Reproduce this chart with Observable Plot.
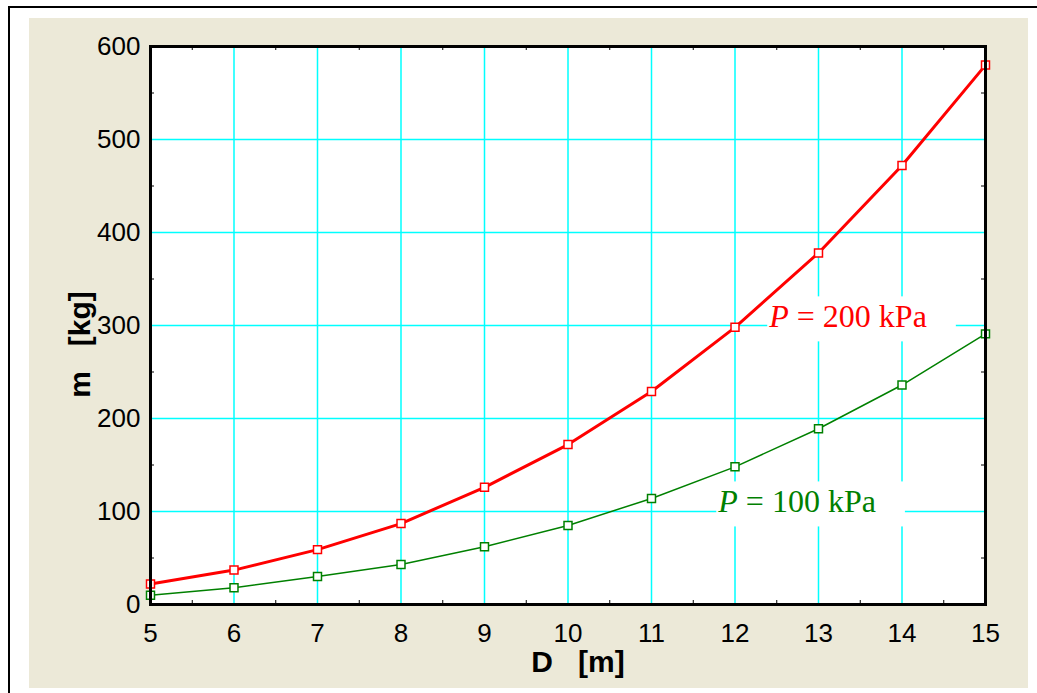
<!DOCTYPE html>
<html><head><meta charset="utf-8">
<script src="https://cdn.jsdelivr.net/npm/d3@7"></script>
<script src="https://cdn.jsdelivr.net/npm/@observablehq/plot@0.6"></script>
<style>
html,body{margin:0;padding:0;background:#fff;}
#wrap{position:relative;width:1037px;height:693px;overflow:hidden;}
#outer{position:absolute;left:8px;top:6px;width:1040px;height:700px;border-left:2px solid #000;border-top:2px solid #000;}
#beige{position:absolute;left:29px;top:18px;width:999px;height:670px;background:#ECE9D8;}
#chart{position:absolute;left:0;top:0;}
</style></head><body>
<div id="wrap"><div id="outer"></div><div id="beige"></div><div id="chart"></div></div>
<script>
// Data
const diameters = [5, 6, 7, 8, 9, 10, 11, 12, 13, 14, 15];
const mass200 = [22, 37, 59, 87, 126, 172, 229, 298, 378, 472, 580];
const mass100 = [10, 18, 30, 43, 62, 85, 114, 148, 189, 236, 291];
const xTicks = [5, 6, 7, 8, 9, 10, 11, 12, 13, 14, 15];
const yTicks = [0, 100, 200, 300, 400, 500, 600];
const xMinor = [5.5, 6.5, 7.5, 8.5, 9.5, 10.5, 11.5, 12.5, 13.5, 14.5];
const yMinor = [50, 150, 250, 350, 450, 550];
const seriesNames = ["P = 200 kPa", "P = 100 kPa"];
const seriesColors = ["#FF0000", "#008000"];
const labelX = [12.41, 11.80];
const labelY = [298, 99];
const xTitle = "D\u00A0\u00A0\u00A0[m]";
const yTitle = "m\u00A0\u00A0\u00A0[kg]";

const rows200 = diameters.map((d, i) => ({D: d, m: mass200[i]}));
const rows100 = diameters.map((d, i) => ({D: d, m: mass100[i]}));
const labels = seriesNames.map((t, i) => ({text: t, x: labelX[i], y: labelY[i], color: seriesColors[i]}));

const sans = "'Liberation Sans', Arial, sans-serif";
const serif = "'Liberation Serif', 'Times New Roman', serif";

const plot = Plot.plot({
  width: 1037, height: 693,
  marginLeft: 150, marginRight: 52, marginTop: 46, marginBottom: 89,
  style: {background: "transparent", fontFamily: sans, overflow: "visible"},
  x: {domain: [5, 15]},
  y: {domain: [0, 600]},
  color: {type: "identity"},
  marks: [
    Plot.frame({fill: "white", stroke: null}),
    Plot.gridX(xTicks, {stroke: "#00FFFF", strokeOpacity: 1, strokeWidth: 1.5}),
    Plot.gridY(yTicks, {stroke: "#00FFFF", strokeOpacity: 1, strokeWidth: 1.5}),
    Plot.axisX(xTicks, {tickSize: 0, tickPadding: 19, fontSize: 26, label: null, tickFormat: d => String(d)}),
    Plot.axisY(yTicks, {tickSize: 0, tickPadding: 10, fontSize: 26, label: null, tickFormat: d => String(d)}),
    Plot.tickY(yMinor, {y: d => d, insetRight: 831, stroke: "#000", strokeWidth: 1}),
    Plot.tickY(yMinor, {y: d => d, insetLeft: 831, stroke: "#000", strokeWidth: 1}),
    Plot.tickX(xMinor, {x: d => d, insetTop: 554, stroke: "#000", strokeWidth: 1}),
    Plot.tickX(xMinor, {x: d => d, insetBottom: 554, stroke: "#000", strokeWidth: 1}),
    Plot.line(rows100, {x: "D", y: "m", stroke: seriesColors[1], strokeWidth: 1.5}),
    Plot.line(rows200, {x: "D", y: "m", stroke: seriesColors[0], strokeWidth: 3}),
    Plot.dot(rows100, {x: "D", y: "m", symbol: "square", r: 4.5, fill: "white", stroke: seriesColors[1], strokeWidth: 1.5}),
    Plot.dot(rows200, {x: "D", y: "m", symbol: "square", r: 4.5, fill: "white", stroke: seriesColors[0], strokeWidth: 1.5}),
    Plot.text(labels, {x: "x", y: "y", text: "text", fill: "color", textAnchor: "start", lineAnchor: "bottom", fontSize: 32, fontFamily: serif}),
    Plot.text([yTitle], {frameAnchor: "left", dx: -70, dy: 19, rotate: -90, textAnchor: "middle", lineAnchor: "middle", fontSize: 30, fontWeight: "bold", fill: "#000"}),
    Plot.text([xTitle], {frameAnchor: "bottom", dx: 10, dy: 58, textAnchor: "middle", lineAnchor: "middle", fontSize: 30, fontWeight: "bold", fill: "#000"}),
    Plot.frame({stroke: "#000", strokeWidth: 3})
  ]
});
document.getElementById("chart").appendChild(plot);

// Italic "P" and white label boxes behind the series labels
const svg = d3.select(plot);
const firstLine = plot.querySelector('g[aria-label="line"]');
svg.selectAll("text").each(function () {
  const t = this.textContent;
  if (!seriesNames.includes(t)) return;
  const el = d3.select(this);
  el.text("");
  el.append("tspan").attr("font-style", "italic").text(t.slice(0, 1));
  el.append("tspan").text(t.slice(1));
  const bb = this.getBBox();
  const parent = this.parentNode;
  const g = d3.create("svg:g").attr("transform", parent.getAttribute("transform"));
  g.append("rect")
    .attr("transform", this.getAttribute("transform"))
    .attr("x", bb.x - 1).attr("y", bb.y - 2)
    .attr("width", bb.width + 30).attr("height", bb.height + 9)
    .attr("fill", "white");
  plot.insertBefore(g.node(), firstLine);
});
</script>
</body></html>
